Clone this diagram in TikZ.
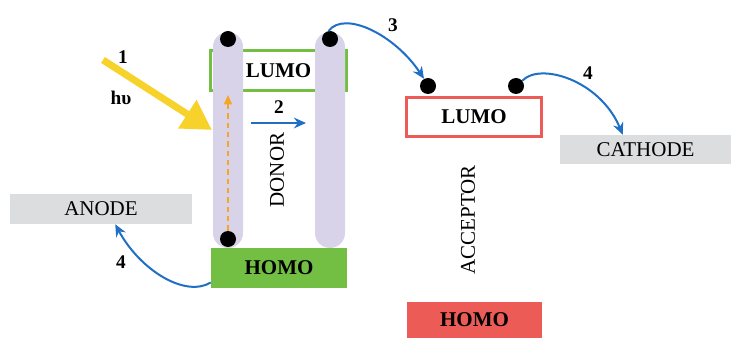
\documentclass[tikz,border=0pt]{standalone}
\usepackage{fontspec}
\setmainfont{Liberation Serif}
\usetikzlibrary{arrows.meta}
\definecolor{dgreen}{RGB}{114,191,68}
\definecolor{ared}{RGB}{236,91,86}
\definecolor{lav}{RGB}{216,211,232}
\definecolor{egrey}{RGB}{220,221,223}
\definecolor{eblue}{RGB}{31,111,198}
\definecolor{eyellow}{RGB}{246,210,42}
\definecolor{eorange}{RGB}{245,166,35}
\begin{document}
\begin{tikzpicture}[x=0.75pt,y=-0.75pt,
  lbl/.style={font=\fontsize{15.75}{18}\selectfont},
  blbl/.style={font=\fontsize{15.75}{18}\selectfont\bfseries},
  num/.style={font=\fontsize{14.5}{17}\selectfont\bfseries,inner sep=0},
  box/.style={rectangle,inner sep=0},
  pillar/.style={rectangle,draw=none,fill=lav,rounded corners=11.25pt,minimum width=22.5pt,minimum height={216*0.75pt},inner sep=0},
  edot/.style={circle,fill=black,minimum size=12pt,inner sep=0},
  bluearr/.style={draw=eblue,line width=1.5pt,-{Stealth[length=9pt,width=8pt]}},
  ]
\useasboundingbox (0,0) rectangle (731,338);
% donor levels
\node[box,draw=dgreen,line width=2.25pt,minimum width={136*0.75pt},minimum height={40*0.75pt},blbl] (lumoD) at (278.5,70.5) {LUMO};
\node[box,fill=dgreen,minimum width={136*0.75pt},minimum height={40*0.75pt},blbl] (homoD) at (279,268) {HOMO};
\node[pillar] (pillarL) at (228,140) {};
\node[pillar] (pillarR) at (330,140) {};
\node[lbl,rotate=90,inner sep=0] (donor) at (277,170) {DONOR};
% electrodes
\node[box,fill=egrey,minimum width={182*0.75pt},minimum height={30*0.75pt},lbl] (anode) at (101,209) {ANODE};
\node[box,fill=egrey,minimum width={171*0.75pt},minimum height={29*0.75pt},lbl] (cathode) at (645.5,149.5) {CATHODE};
% acceptor levels
\node[box,draw=ared,line width=2.25pt,minimum width={135*0.75pt},minimum height={39*0.75pt},blbl] (lumoA) at (474,117) {LUMO};
\node[box,fill=ared,minimum width={135*0.75pt},minimum height={36*0.75pt},blbl] (homoA) at (474.5,320) {HOMO};
\node[lbl,rotate=90,inner sep=0] (acceptor) at (468,220) {ACCEPTOR};
% electrons
\node[edot] (dL1) at (228,39) {};
\node[edot] (dR1) at (330,39) {};
\node[edot] (dL2) at (228,239) {};
\node[edot] (dA1) at (428,86) {};
\node[edot] (dA2) at (516,86) {};
% numbers
\node[num] (n1) at (123,57) {1};
\node[num] (hv) at (121,98) {hυ};
\node[num] (n2) at (279,107) {2};
\node[num] (n3) at (393,25) {3};
\node[num] (n4a) at (121,262) {4};
\node[num] (n4b) at (588,73) {4};
% coordinates
\coordinate (lightS) at (103,60);
\coordinate (lightE) at (212,130);
\coordinate (exc) at (228,95);
\coordinate (t2s) at (251,123);
\coordinate (t2e) at (306,123);
% arrows
\draw[draw=eyellow,line width=5.25pt,-{Triangle[length=22pt,width=24pt]}] (lightS) -- (lightE);
\draw[draw=eorange,line width=1.1pt,dash pattern=on 4pt off 3pt,-{Triangle[length=7pt,width=6pt]}] (dL2.north) -- (exc);
\draw[bluearr] (t2s) -- (t2e);
\draw[bluearr] (dR1.100) .. controls (345,10) and (395,35) .. (dA1.119);
\draw[bluearr] (dA2.40) .. controls (540,62) and (600,80) .. (cathode.147);
\draw[bluearr] (homoD.-168) .. controls (185,298) and (140,270) .. (anode.-47);
\end{tikzpicture}
\end{document}
